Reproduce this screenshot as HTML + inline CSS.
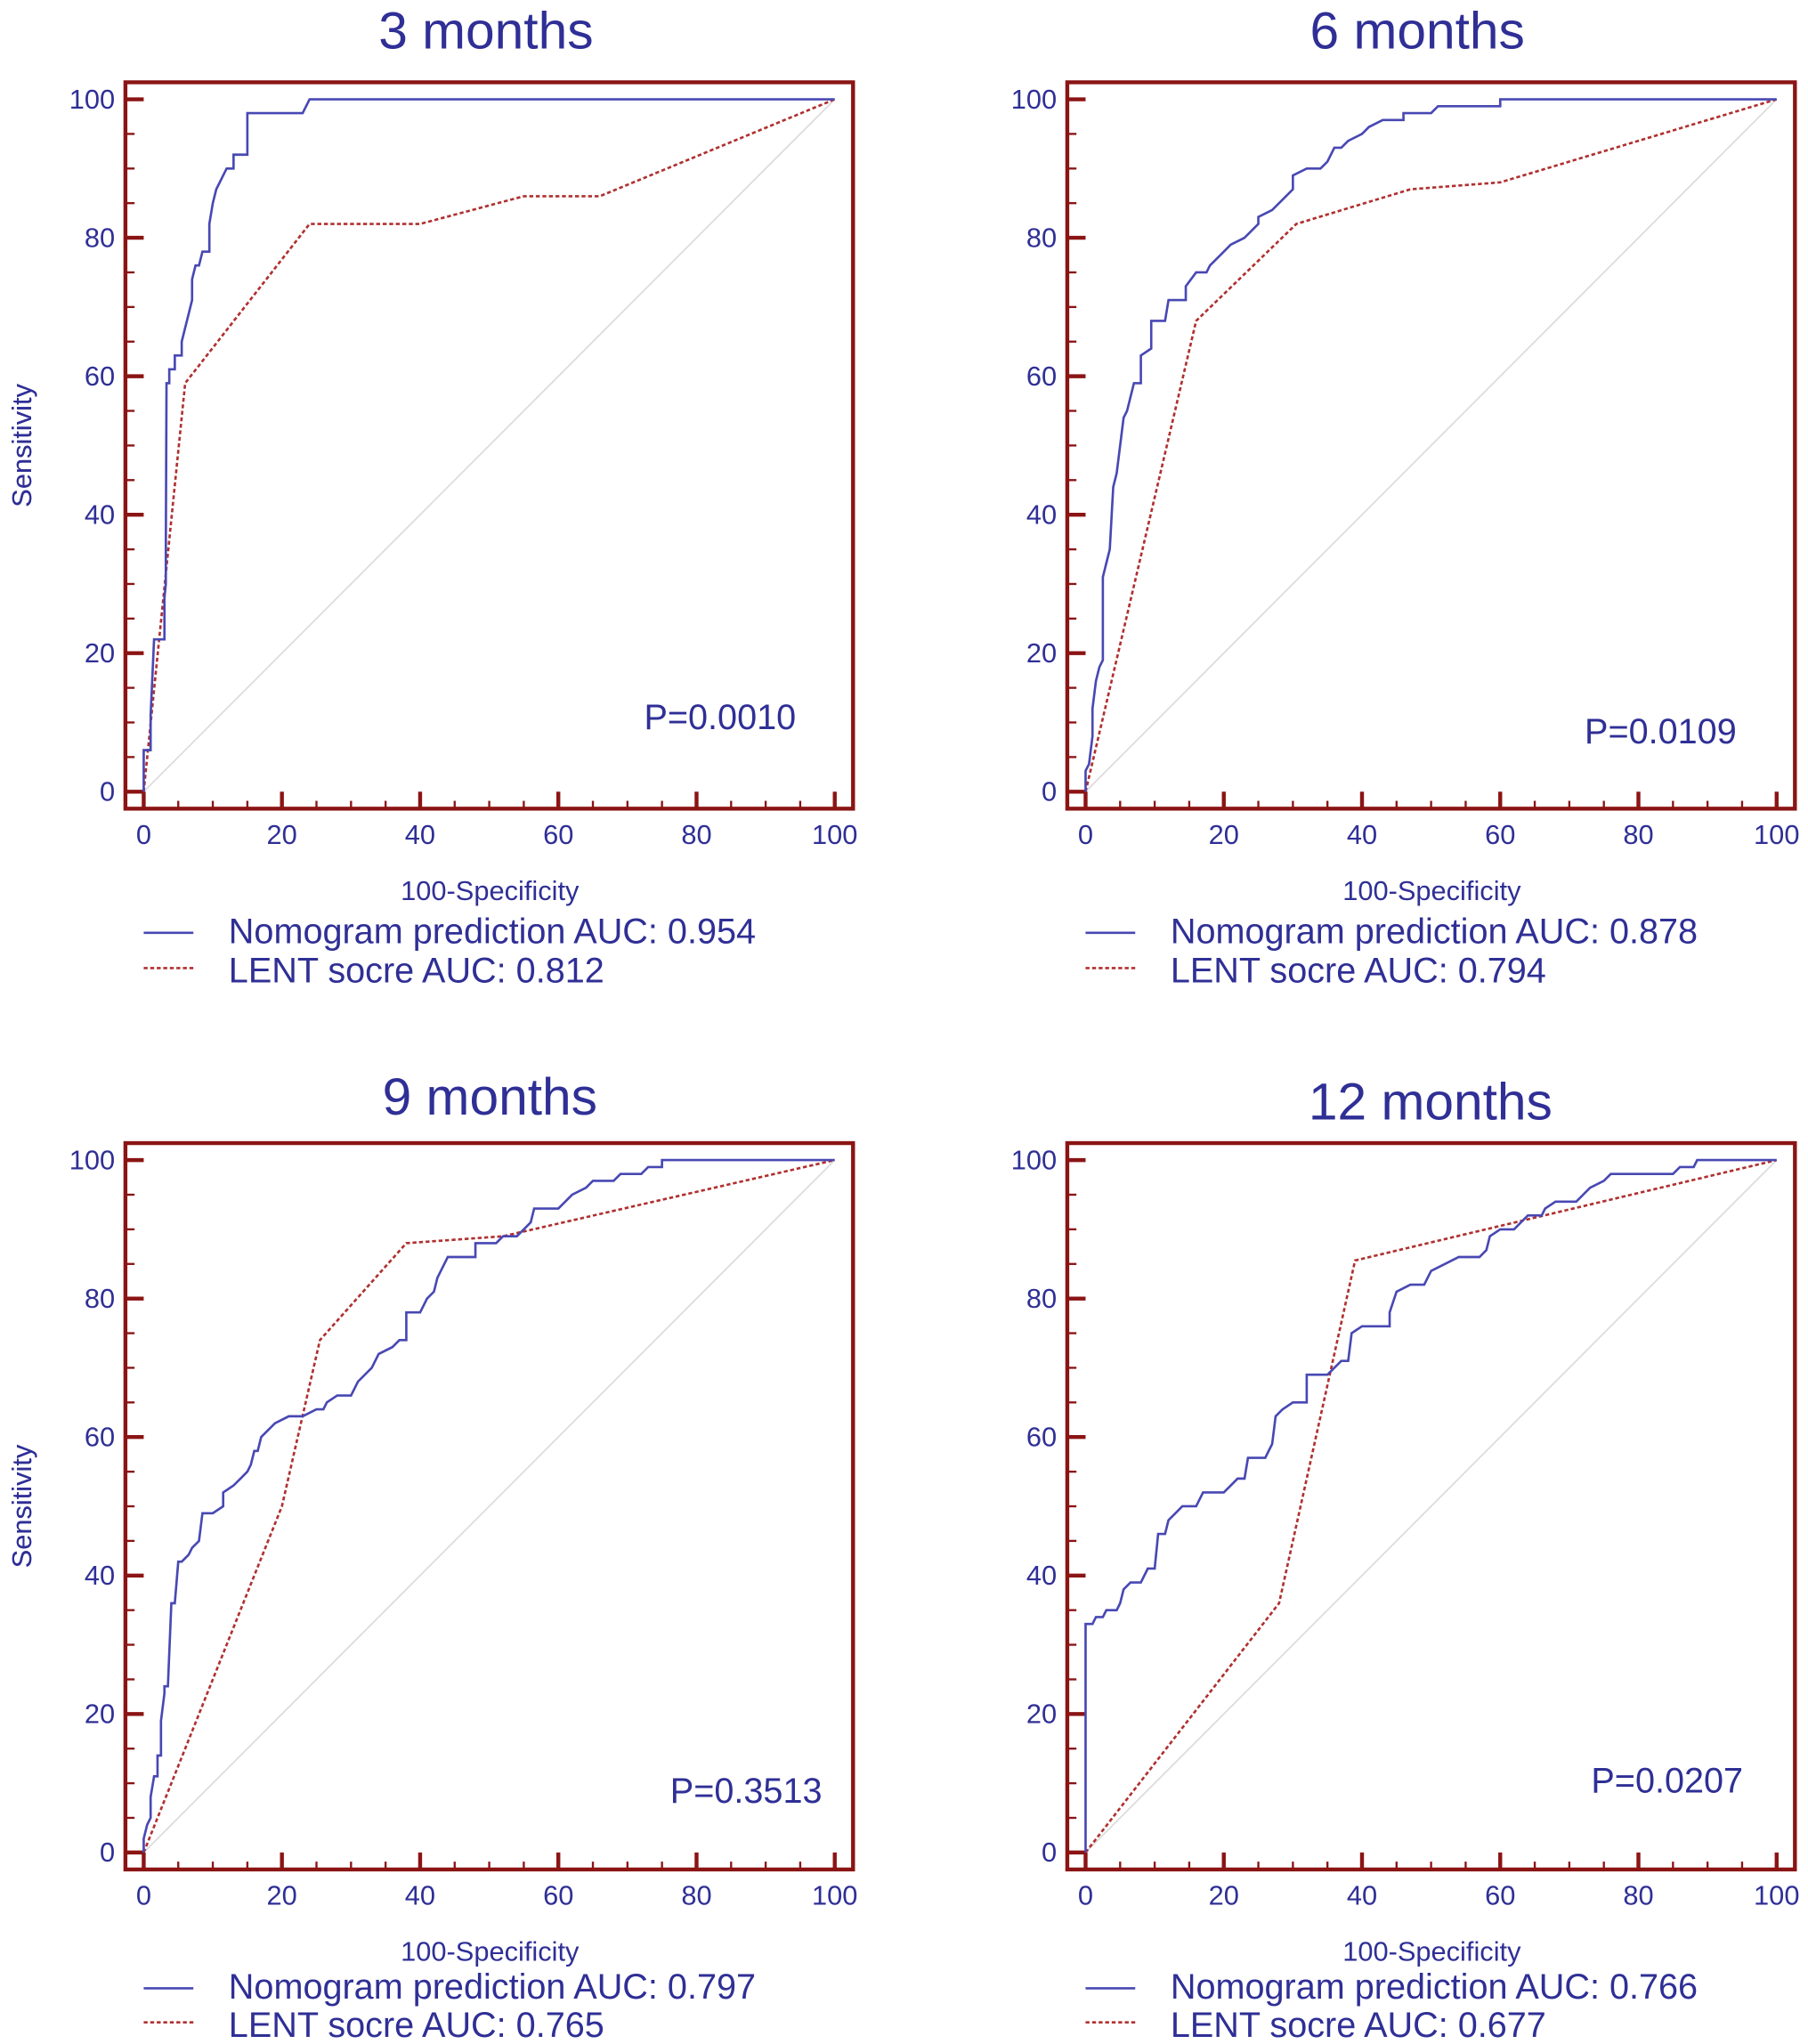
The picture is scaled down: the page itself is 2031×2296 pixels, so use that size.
<!DOCTYPE html>
<html><head><meta charset="utf-8"><style>
html,body{margin:0;padding:0;background:#fff}
svg{display:block}
text{font-family:"Liberation Sans",sans-serif;fill:#2f2f96}
</style></head><body>
<svg id="fig" width="2031" height="2296" viewBox="0 0 1384 1564.6" xmlns="http://www.w3.org/2000/svg"></svg>
<script>
const titles = ["3 months","6 months","9 months","12 months"];
const pValues = ["P=0.0010","P=0.0109","P=0.3513","P=0.0207"];
const nomoAUC = ["0.954","0.878","0.797","0.766"];
const lentAUC = ["0.812","0.794","0.765","0.677"];
const ticks = [0,20,40,60,80,100];
const nomo3 = [[0,0],[0,6],[1,6],[1,11],[1.5,22],[3,22],[3,28],[3.2,30],[3.2,35],[3.3,59],[3.7,59],[3.7,61],[4.5,61],[4.5,63],[5.5,63],[5.5,65],[6,67],[6.5,69],[7,71],[7,74],[7.5,76],[8,76],[8.5,78],[9.5,78],[9.5,82],[10,85],[10.5,87],[11,88],[11.5,89],[12,90],[13,90],[13,92],[15,92],[15,98],[23,98],[24,100],[100,100]];
const lent3 = [[0,0],[6,59],[24,82],[40,82],[55,86],[66,86],[100,100]];
const nomo6 = [[0,0],[0,3],[0.5,4],[1,8],[1,12],[1.5,16],[2,18],[2.5,19],[2.5,31],[3,33],[3.5,35],[4,44],[4.5,46],[5.5,54],[6,55],[6.5,57],[7,59],[8,59],[8,63],[9.5,64],[9.5,68],[11.5,68],[12,71],[14.5,71],[14.5,73],[16,75],[17.5,75],[18,76],[19,77],[20,78],[21,79],[23,80],[24,81],[25,82],[25,83],[27,84],[29,86],[30,87],[30,89],[32,90],[34,90],[35,91],[36,93],[37,93],[38,94],[40,95],[41,96],[43,97],[46,97],[46,98],[50,98],[51,99],[60,99],[60,100],[100,100]];
const lent6 = [[0,0],[16,68],[30.5,82],[47,87],[60,88],[100,100]];
const nomo9 = [[0,0],[0,2],[0.5,4],[1,5],[1,8],[1.5,11],[2,11],[2,14],[2.5,14],[2.5,19],[3,23],[3,24],[3.5,24],[4,36],[4.5,36],[5,42],[5.5,42],[6.5,43],[7,44],[8,45],[8.5,49],[10,49],[11.5,50],[11.5,52],[13,53],[14,54],[15,55],[15.5,56],[16,58],[16.5,58],[17,60],[18,61],[19,62],[21,63],[23,63],[25,64],[26,64],[26.5,65],[28,66],[30,66],[31,68],[33,70],[34,72],[36,73],[37,74],[38,74],[38,78],[40,78],[41,80],[42,81],[42.5,83],[43,84],[44,86],[48,86],[48,88],[51,88],[52,89],[54,89],[55,90],[56,91],[56.5,93],[60,93],[61,94],[62,95],[64,96],[65,97],[68,97],[69,98],[72,98],[73,99],[75,99],[75,100],[100,100]];
const lent9 = [[0,0],[20,50],[25.5,74],[38,88],[52,89],[100,100]];
const nomo12 = [[0,0],[0,33],[1,33],[1.5,34],[2.5,34],[3,35],[4.5,35],[5,36],[5.5,38],[6.5,39],[8,39],[9,41],[10,41],[10.5,46],[11.5,46],[12,48],[13,49],[14,50],[16,50],[17,52],[20,52],[21,53],[22,54],[23,54],[23.5,57],[26,57],[26.5,58],[27,59],[27.5,63],[28.5,64],[30,65],[32,65],[32,69],[35,69],[36,70],[37,71],[38,71],[38.5,75],[40,76],[44,76],[44,78],[45,81],[47,82],[49,82],[50,84],[52,85],[54,86],[57,86],[58,87],[58.5,89],[60,90],[62,90],[63,91],[64,92],[66,92],[66.5,93],[68,94],[71,94],[72,95],[73,96],[75,97],[76,98],[85,98],[86,99],[88,99],[88.5,100],[100,100]];
const lent12 = [[0,0],[28,36],[39,85.5],[100,100]];

const NS="http://www.w3.org/2000/svg";
const svg=document.getElementById('fig');
function mk(tag,attrs,parent,txt){const e=document.createElementNS(NS,tag);for(const k in attrs)e.setAttribute(k,attrs[k]);if(txt!==undefined)e.textContent=txt;parent.appendChild(e);return e;}

const panels=[
 {fl:96,ft:63,title:[372,37],p:[493,558],nomo:nomo3,lent:lent3,leg:[722,752]},
 {fl:817,ft:63,title:[1085,37],p:[1213,569],nomo:nomo6,lent:lent6,leg:[722,752]},
 {fl:96,ft:875,title:[375,853],p:[513,1380],nomo:nomo9,lent:lent9,leg:[1530,1559]},
 {fl:817,ft:875,title:[1095,857],p:[1218,1372],nomo:nomo12,lent:lent12,leg:[1530,1559]}
];
panels.forEach((P,i)=>{
 const g=mk('g',{},svg);
 
 
 const x0=P.fl+14,x1=P.fl+543,y100=P.ft+13,y0=P.ft+543;
 const sx=v=>x0+(x1-x0)*v/100, sy=v=>y0-(y0-y100)*v/100;
 const t=mk('text',{x:P.title[0],y:P.title[1],'font-size':40,'text-anchor':'middle'},g,titles[i]);
 
 
 const d=mk('line',{x1:sx(0),y1:sy(0),x2:sx(100),y2:sy(100),stroke:'#dcdcdc','stroke-width':1.2},g);
 
 
 for(let v=0;v<=100;v+=5){
  const maj=v%20===0;
  const tx=mk('line',{x1:sx(v),x2:sx(v),y1:P.ft+556,y2:P.ft+556-(maj?13:6),stroke:'#8b1414','stroke-width':maj?3:1.6},g);
  
  
  const ty=mk('line',{y1:sy(v),y2:sy(v),x1:P.fl,x2:P.fl+(maj?14:7),stroke:'#8b1414','stroke-width':maj?3:1.6},g);
  
  
 }
 ticks.forEach(v=>{
  const a=mk('text',{x:sx(v),y:P.ft+583,'font-size':21,'text-anchor':'middle'},g,String(v));
  
  
  const b=mk('text',{x:P.fl-8,y:sy(v)+7,'font-size':21,'text-anchor':'end'},g,String(v));
  
  
 });
 const pl=(arr,col,dash,name)=>{
  const e=mk('polyline',{points:arr.map(p=>sx(p[0])+','+sy(p[1])).join(' '),fill:'none',stroke:col,'stroke-width':1.8},g);
  if(dash)e.setAttribute('stroke-dasharray','3,2');
  
  
 };
 pl(P.lent,'#b03030',true,'lent-score-curve');
 pl(P.nomo,'#4848b4',false,'nomogram-curve');
 const fr=mk('rect',{x:P.fl,y:P.ft,width:557,height:556,fill:'none',stroke:'#8b1414','stroke-width':3},g);
 
 
 const pt=mk('text',{x:P.p[0],y:P.p[1],'font-size':27},g,pValues[i]);
 
 
 const xl=mk('text',{x:P.fl+279,y:P.ft+626,'font-size':21,'text-anchor':'middle'},g,'100-Specificity');
 
 
 const cy=P.ft+278;
 const yl=mk('text',{x:24,y:cy,'font-size':21,'text-anchor':'middle',transform:'rotate(-90 24 '+cy+')'},g,'Sensitivity');
 
 
 const l1=mk('line',{x1:P.fl+14,x2:P.fl+52,y1:P.leg[0]-8,y2:P.leg[0]-8,stroke:'#4848b4','stroke-width':1.8},g);
 
 
 const t1=mk('text',{x:P.fl+79,y:P.leg[0],'font-size':27},g,'Nomogram prediction AUC: '+nomoAUC[i]);
 
 
 const l2=mk('line',{x1:P.fl+14,x2:P.fl+52,y1:P.leg[1]-11,y2:P.leg[1]-11,stroke:'#b03030','stroke-width':1.8,'stroke-dasharray':'3,2'},g);
 
 
 const t2=mk('text',{x:P.fl+79,y:P.leg[1],'font-size':27},g,'LENT socre AUC: '+lentAUC[i]);
 
 
});
</script>
</body></html>
